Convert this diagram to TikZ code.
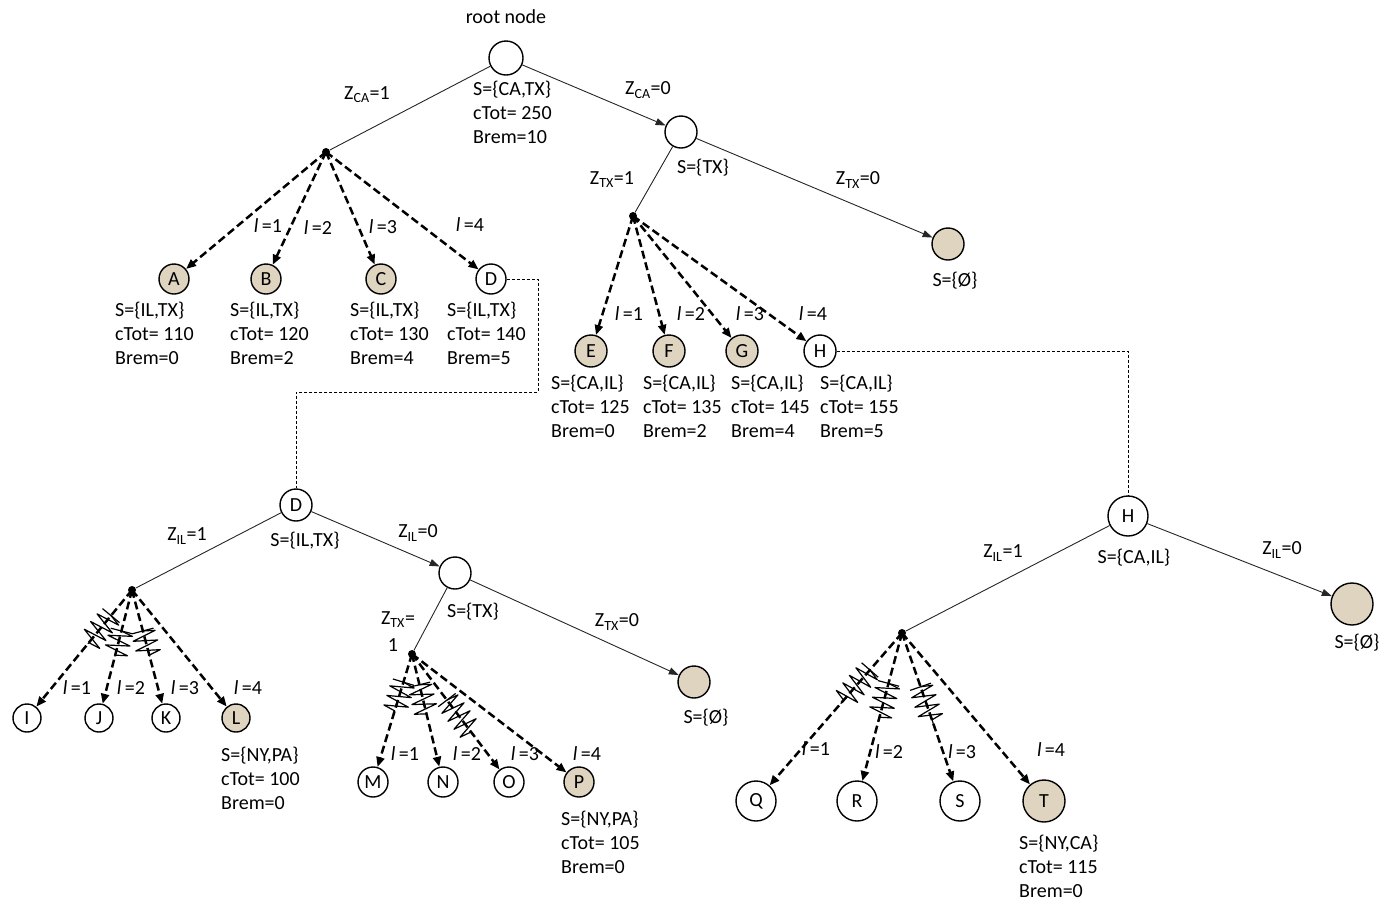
\documentclass[tikz,border=0pt]{standalone}
\usepackage{fontspec}
\setmainfont{Carlito}
\usetikzlibrary{arrows.meta,decorations.pathmorphing,calc}
\definecolor{leaf}{RGB}{222,212,192}
\tikzset{
  st/.style={circle,draw,line width=1.4pt,inner sep=0pt,fill=white},
  lf/.style={st,fill=leaf},
  chance/.style={circle,fill=black,inner sep=0pt,minimum size=8pt},
  branch/.style={draw=black!85,line width=0.9pt},
  barrow/.style={branch,-{Triangle[length=10pt,width=7pt]}},
  darrow/.style={line width=2.5pt,dash pattern=on 8pt off 4pt,-{Triangle[length=10pt,width=8pt]}},
  link/.style={line width=0.8pt,dash pattern=on 3pt off 2pt},
  squig/.style={line width=1.2pt,line join=round,decorate,decoration={zigzag,amplitude=12pt,segment length=10pt}},
  tick/.style={line width=1.2pt},
  txt/.style={inner sep=0pt,anchor=base west},
  ctxt/.style={inner sep=0pt,anchor=center},
}
\newcommand\infoblock[6]{% name, x, y of first baseline, three lines
  \node[txt] (#1-a) at (#2,#3) {#4};
  \node[txt] (#1-b) at (#2,#3+24) {#5};
  \node[txt] (#1-c) at (#2,#3+48) {#6};
}
\newcommand\lab[1]{\textit{l}\,=#1}
\begin{document}
\begin{tikzpicture}[x=1pt,y=-1pt,font=\fontsize{20}{24}\selectfont]
\useasboundingbox (0,0) rectangle (1392,903);

% ---------- upper tree ----------
\node[st,minimum size=34pt] (root) at (506,58) {};
\node[ctxt] (rootlab) at (506,17) {root node};
\infoblock{root}{473}{95}{S=\{CA,TX\}}{cTot= 250}{Brem=10}

\node[chance] (c1) at (326,152) {};
\node[st,minimum size=32pt] (tx1) at (681,132) {};
\node[ctxt] (tx1-s) at (703,168) {S=\{TX\}};
\node[chance] (c2) at (633,216) {};
\node[lf,minimum size=32pt] (e1) at (948,244) {};
\node[ctxt] (e1-s) at (955,281) {S=\{Ø\}};

\draw[branch] (root) -- (c1);
\draw[barrow] (root) -- (tx1);
\draw[branch] (tx1) -- (c2);
\draw[barrow] (tx1) -- (e1);
\node[ctxt] (zca1) at (367,95) {Z\textsubscript{CA}=1};
\node[ctxt] (zca0) at (648,90) {Z\textsubscript{CA}=0};
\node[ctxt] (ztx1) at (612,180) {Z\textsubscript{TX}=1};
\node[ctxt] (ztx0) at (858,180) {Z\textsubscript{TX}=0};

% children of the first chance point
\node[lf,minimum size=30pt] (A) at (174,279) {A};
\node[lf,minimum size=30pt] (B) at (266,279) {B};
\node[lf,minimum size=30pt] (C) at (381,279) {C};
\node[st,minimum size=30pt] (D) at (491,279) {D};
\foreach \n in {A,B,C,D} \draw[darrow] (c1.center) -- (\n);
\node[ctxt] (lb1) at (268,226) {\lab{1}};
\node[ctxt] (lb2) at (318,228) {\lab{2}};
\node[ctxt] (lb3) at (383,227) {\lab{3}};
\node[ctxt] (lb4) at (470,225) {\lab{4}};
\infoblock{A}{115}{316}{S=\{IL,TX\}}{cTot= 110}{Brem=0}
\infoblock{B}{230}{316}{S=\{IL,TX\}}{cTot= 120}{Brem=2}
\infoblock{C}{350}{316}{S=\{IL,TX\}}{cTot= 130}{Brem=4}
\infoblock{D}{447}{316}{S=\{IL,TX\}}{cTot= 140}{Brem=5}

% children of the second chance point
\node[lf,minimum size=32pt] (E) at (591,351) {E};
\node[lf,minimum size=32pt] (F) at (669,351) {F};
\node[lf,minimum size=32pt] (G) at (742,351) {G};
\node[st,minimum size=32pt] (H) at (820,351) {H};
\foreach \n in {E,F,G,H} \draw[darrow] (c2.center) -- (\n);
\node[ctxt] (lb5) at (629,314) {\lab{1}};
\node[ctxt] (lb6) at (691,314) {\lab{2}};
\node[ctxt] (lb7) at (750,314) {\lab{3}};
\node[ctxt] (lb8) at (813,314) {\lab{4}};
\infoblock{E}{551}{389}{S=\{CA,IL\}}{cTot= 125}{Brem=0}
\infoblock{F}{643}{389}{S=\{CA,IL\}}{cTot= 135}{Brem=2}
\infoblock{G}{731}{389}{S=\{CA,IL\}}{cTot= 145}{Brem=4}
\infoblock{H}{820}{389}{S=\{CA,IL\}}{cTot= 155}{Brem=5}

% ---------- subtree of D ----------
\node[st,minimum size=32pt] (D2) at (296,505) {D};
\draw[link] (D.east) -- (538,279) -- (538,392) -- (296,392) -- (D2.north);
\node[ctxt] (D2-s) at (305,541) {S=\{IL,TX\}};
\node[chance] (c3) at (132,590) {};
\node[st,minimum size=32pt] (tx2) at (455,573) {};
\node[ctxt] (tx2-s) at (473,612) {S=\{TX\}};
\node[chance] (c4) at (412,654) {};
\node[lf,minimum size=32pt] (e2) at (694,682) {};
\node[ctxt] (e2-s) at (706,718) {S=\{Ø\}};
\draw[branch] (D2) -- (c3);
\draw[barrow] (D2) -- (tx2);
\draw[branch] (tx2) -- (c4);
\draw[barrow] (tx2) -- (e2);
\node[ctxt] (zil1a) at (187,536) {Z\textsubscript{IL}=1};
\node[ctxt] (zil0a) at (418,533) {Z\textsubscript{IL}=0};
\node[ctxt] (ztx1b) at (398,620) {Z\textsubscript{TX}=};
\node[ctxt] (ztx1c) at (393,645) {1};
\node[ctxt] (ztx0b) at (617,622) {Z\textsubscript{TX}=0};

\node[st,minimum size=28pt] (I) at (27,718) {I};
\node[st,minimum size=28pt] (J) at (99,718) {J};
\node[st,minimum size=28pt] (K) at (166,718) {K};
\node[lf,minimum size=28pt] (L) at (236,718) {L};
\foreach \n in {I,J,K,L} \draw[darrow] (c3.center) -- (\n);
\node[ctxt] (lb9) at (77,688) {\lab{1}};
\node[ctxt] (lb10) at (131,688) {\lab{2}};
\node[ctxt] (lb11) at (185,688) {\lab{3}};
\node[ctxt] (lb12) at (248,688) {\lab{4}};
\infoblock{L}{221}{761}{S=\{NY,PA\}}{cTot= 100}{Brem=0}

\node[st,minimum size=30pt] (M) at (373,782) {M};
\node[st,minimum size=30pt] (N) at (443,782) {N};
\node[st,minimum size=30pt] (O) at (509,782) {O};
\node[lf,minimum size=30pt] (P) at (579,782) {P};
\foreach \n in {M,N,O,P} \draw[darrow] (c4.center) -- (\n);
\node[ctxt] (lb13) at (405,754) {\lab{1}};
\node[ctxt] (lb14) at (467,754) {\lab{2}};
\node[ctxt] (lb15) at (525,754) {\lab{3}};
\node[ctxt] (lb16) at (587,754) {\lab{4}};
\infoblock{P}{561}{825}{S=\{NY,PA\}}{cTot= 105}{Brem=0}

% ---------- subtree of H ----------
\node[st,minimum size=40pt] (H2) at (1128,516) {H};
\draw[link] (H.east) -- (1128,351) -- (H2.north);
\node[ctxt] (H2-s) at (1134,558) {S=\{CA,IL\}};
\node[chance] (c5) at (902,633) {};
\node[lf,minimum size=42pt] (e3) at (1352,604) {};
\node[ctxt] (e3-s) at (1357,643) {S=\{Ø\}};
\draw[branch] (H2) -- (c5);
\draw[barrow] (H2) -- (e3);
\node[ctxt] (zil1b) at (1003,553) {Z\textsubscript{IL}=1};
\node[ctxt] (zil0b) at (1282,550) {Z\textsubscript{IL}=0};

\node[st,minimum size=40pt] (Q) at (756,801) {Q};
\node[st,minimum size=40pt] (R) at (857,801) {R};
\node[st,minimum size=40pt] (S) at (960,801) {S};
\node[lf,minimum size=42pt] (T) at (1044,801) {T};
\foreach \n in {Q,R,S,T} \draw[darrow] (c5.center) -- (\n);
\node[ctxt] (lb17) at (816,749) {\lab{1}};
\node[ctxt] (lb18) at (889,752) {\lab{2}};
\node[ctxt] (lb19) at (962,752) {\lab{3}};
\node[ctxt] (lb20) at (1051,750) {\lab{4}};
\infoblock{T}{1019}{849}{S=\{NY,CA\}}{cTot= 115}{Brem=0}

% ---------- pruned branches: a spring across the edge, with a tick ----------
\foreach \c/\n/\a/\b in {c3/I/0.20/0.42, c3/J/0.32/0.52, c3/K/0.32/0.52,
                         c4/M/0.22/0.48, c4/N/0.24/0.48, c4/O/0.36/0.62,
                         c5/Q/0.22/0.42, c5/R/0.30/0.52, c5/S/0.32/0.54} {
  \path (\c.center) -- (\n.center) coordinate[pos=\a] (sqa) coordinate[pos=\b] (sqb);
  \draw[squig] (sqa) -- (sqb);
  \draw[tick] ($(sqa)!11pt!90:(sqb)$) -- ($(sqa)!11pt!-90:(sqb)$);
}
\end{tikzpicture}
\end{document}
